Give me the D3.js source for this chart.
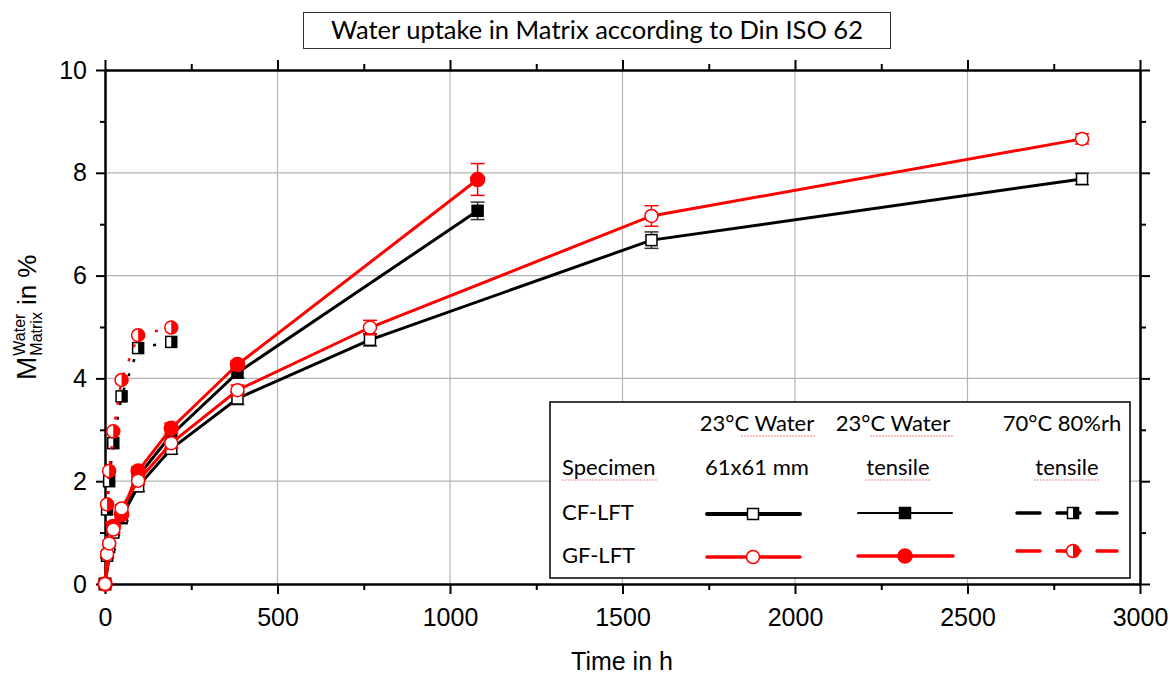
<!DOCTYPE html>
<html>
<head>
<meta charset="utf-8">
<script src="https://cdn.jsdelivr.net/npm/d3@7"></script>
<style>
  body { margin: 0; background: #fff; }
  .legend-text { font-family: Lato, "Open Sans", sans-serif; font-size: 22px; fill: #000; }
</style>
</head>
<body>
<div id="chart"></div>
<script>
// 23°C water, 61x61 mm plates
const timeSheet = [0, 6, 12, 24, 48, 96, 192, 384, 768, 1584, 2832];
const cfSheet = [0, 0.55, 0.72, 1.0, 1.3, 1.9, 2.63, 3.61, 4.75, 6.69, 7.88];
const cfSheetErr = [0, 0.05, 0.05, 0.06, 0.07, 0.1, 0.1, 0.12, 0.12, 0.16, 0.11];
const gfSheet = [0, 0.58, 0.79, 1.06, 1.47, 2.01, 2.74, 3.77, 4.99, 7.16, 8.66];
const gfSheetErr = [0, 0.05, 0.05, 0.06, 0.07, 0.08, 0.1, 0.1, 0.14, 0.2, 0.1];

// 23°C water, tensile specimens
const timeTensile = [0, 24, 48, 96, 192, 384, 1080];
const cfTensile = [0, 1.05, 1.28, 2.1, 2.9, 4.11, 7.26];
const cfTensileErr = [0, 0.05, 0.06, 0.08, 0.1, 0.1, 0.17];
const gfTensile = [0, 1.12, 1.35, 2.2, 3.03, 4.27, 7.87];
const gfTensileErr = [0, 0.05, 0.06, 0.08, 0.1, 0.08, 0.31];

// 70°C 80%rh, tensile specimens
const timeHumid = [0, 6, 12, 24, 48, 96, 192];
const cfHumid = [0, 1.45, 2.0, 2.74, 3.65, 4.59, 4.71];
const gfHumid = [0, 1.55, 2.2, 2.97, 3.97, 4.84, 4.99];

const xTicks = [0, 500, 1000, 1500, 2000, 2500, 3000];
const xMinor = [250, 750, 1250, 1750, 2250, 2750];
const yTicks = [0, 2, 4, 6, 8, 10];
const yMinor = [1, 3, 5, 7, 9];

const titleText = "Water uptake in Matrix according to Din ISO 62";
const legendHead1 = ["23°C Water", "23°C Water", "70°C 80%rh"];
const legendHead2 = ["Specimen", "61x61 mm", "tensile", "tensile"];
const legendRows = ["CF-LFT", "GF-LFT"];

const RED = "#ff0000";
const AXIS_FONT = "'Liberation Sans', Arial, sans-serif";

UptakeChart = function (_parentElement) {
    this.parentElement = _parentElement;
    this.initVis();
};

UptakeChart.prototype.initVis = function () {
    var vis = this;

    vis.width = 1174;
    vis.height = 675;
    vis.plot = { left: 105, right: 1140, top: 70, bottom: 584 };

    vis.svg = d3.select("#" + vis.parentElement).append("svg")
        .attr("width", vis.width)
        .attr("height", vis.height);

    vis.x = d3.scaleLinear().domain([0, 3000]).range([vis.plot.left, vis.plot.right]);
    vis.y = d3.scaleLinear().domain([0, 10]).range([vis.plot.bottom, vis.plot.top]);

    // grid
    vis.svg.append("g").selectAll("line")
        .data(xTicks.slice(1, -1))
        .enter().append("line")
        .attr("x1", d => vis.x(d)).attr("x2", d => vis.x(d))
        .attr("y1", vis.plot.top).attr("y2", vis.plot.bottom)
        .attr("stroke", "#b4b4b4").attr("stroke-width", 1.2);
    vis.svg.append("g").selectAll("line")
        .data(yTicks.slice(1, -1))
        .enter().append("line")
        .attr("y1", d => vis.y(d)).attr("y2", d => vis.y(d))
        .attr("x1", vis.plot.left).attr("x2", vis.plot.right)
        .attr("stroke", "#b4b4b4").attr("stroke-width", 1.2);

    vis.drawAxes();

    // series: black first, red on top, plates last so the open markers stay visible
    vis.drawSeries(timeHumid, cfHumid, null, "#000", 2.5, "3,12", "halfSquare");
    vis.drawSeries(timeTensile, cfTensile, cfTensileErr, "#000", 3, null, "square");
    vis.drawSeries(timeSheet, cfSheet, cfSheetErr, "#000", 3, null, "openSquare");
    vis.drawSeries(timeHumid, gfHumid, null, RED, 2.5, "3,12", "halfCircle");
    vis.drawSeries(timeTensile, gfTensile, gfTensileErr, RED, 3, null, "circle");
    vis.drawSeries(timeSheet, gfSheet, gfSheetErr, RED, 3, null, "openCircle");

    vis.drawTitle();
    vis.drawLegend();
};

UptakeChart.prototype.drawAxes = function () {
    var vis = this;
    var style = g => {
        g.select(".domain").attr("stroke", "#000").attr("stroke-width", 2.5);
        g.selectAll(".tick line").attr("stroke", "#000").attr("stroke-width", 2);
        g.selectAll(".tick text")
            .style("font-family", AXIS_FONT)
            .style("font-size", "25px")
            .attr("fill", "#000");
    };

    vis.svg.append("g")
        .attr("transform", `translate(0,${vis.plot.bottom})`)
        .call(d3.axisBottom(vis.x).tickValues(xTicks).tickSize(10).tickSizeOuter(0)
            .tickPadding(14).tickFormat(d3.format("d")))
        .call(style);
    vis.svg.append("g")
        .attr("transform", `translate(0,${vis.plot.bottom})`)
        .call(d3.axisBottom(vis.x).tickValues(xMinor).tickSize(6).tickFormat(""))
        .call(style).select(".domain").remove();

    vis.svg.append("g")
        .attr("transform", `translate(0,${vis.plot.top})`)
        .call(d3.axisTop(vis.x).tickValues(xTicks).tickSize(10).tickSizeOuter(0).tickFormat(""))
        .call(style);
    vis.svg.append("g")
        .attr("transform", `translate(0,${vis.plot.top})`)
        .call(d3.axisTop(vis.x).tickValues(xMinor).tickSize(6).tickFormat(""))
        .call(style).select(".domain").remove();

    vis.svg.append("g")
        .attr("transform", `translate(${vis.plot.left},0)`)
        .call(d3.axisLeft(vis.y).tickValues(yTicks).tickSize(9).tickSizeOuter(0).tickPadding(9))
        .call(style);
    vis.svg.append("g")
        .attr("transform", `translate(${vis.plot.left},0)`)
        .call(d3.axisLeft(vis.y).tickValues(yMinor).tickSize(5).tickFormat(""))
        .call(style).select(".domain").remove();

    vis.svg.append("g")
        .attr("transform", `translate(${vis.plot.right},0)`)
        .call(d3.axisRight(vis.y).tickValues(yTicks).tickSize(10).tickSizeOuter(0).tickFormat(""))
        .call(style);
    vis.svg.append("g")
        .attr("transform", `translate(${vis.plot.right},0)`)
        .call(d3.axisRight(vis.y).tickValues(yMinor).tickSize(6).tickFormat(""))
        .call(style).select(".domain").remove();

    // axis titles
    vis.svg.append("text")
        .attr("x", 622).attr("y", 670)
        .attr("text-anchor", "middle")
        .style("font-family", AXIS_FONT)
        .style("font-size", "25px")
        .text("Time in h");

    var yl = vis.svg.append("g").attr("transform", "translate(36,0) rotate(-90)");
    var m = yl.append("text").attr("x", -380).attr("y", 0)
        .style("font-family", AXIS_FONT).style("font-size", "28px").text("M");
    var mw = m.node().getComputedTextLength();
    var sup = yl.append("text").attr("x", -380 + mw + 1).attr("y", -11)
        .style("font-family", AXIS_FONT).style("font-size", "16px").text("Water");
    var sub = yl.append("text").attr("x", -380 + mw + 1).attr("y", 6)
        .style("font-family", AXIS_FONT).style("font-size", "16px").text("Matrix");
    var sw = Math.max(sup.node().getComputedTextLength(), sub.node().getComputedTextLength());
    yl.append("text").attr("x", -380 + mw + sw + 8).attr("y", 0)
        .style("font-family", AXIS_FONT).style("font-size", "26px").text("in %");
};

UptakeChart.prototype.drawMarker = function (g, type, color) {
    var s = 11, r = 6.5;
    if (type === "openSquare" || type === "square" || type === "halfSquare") {
        g.append("rect")
            .attr("x", -s / 2).attr("y", -s / 2).attr("width", s).attr("height", s)
            .attr("fill", type === "square" ? color : "#fff")
            .attr("stroke", color).attr("stroke-width", 1.5);
        if (type === "halfSquare") {
            g.append("rect").attr("x", 0).attr("y", -s / 2).attr("width", s / 2).attr("height", s)
                .attr("fill", color);
        }
    } else {
        var rr = type === "circle" ? 7 : r;
        g.append("circle").attr("r", rr)
            .attr("fill", type === "circle" ? color : "#fff")
            .attr("stroke", color).attr("stroke-width", 1.5);
        if (type === "halfCircle") {
            g.append("path").attr("d", `M0,${-rr}A${rr},${rr} 0 0 1 0,${rr}Z`).attr("fill", color);
        }
    }
};

UptakeChart.prototype.drawSeries = function (times, values, errors, color, width, dash, marker) {
    var vis = this;
    var pts = times.map((t, i) => ({ t: t, v: values[i], e: errors ? errors[i] : 0 }));
    var g = vis.svg.append("g");

    var line = d3.line().x(d => vis.x(d.t)).y(d => vis.y(d.v));
    g.append("path")
        .datum(pts)
        .attr("d", line)
        .attr("fill", "none")
        .attr("stroke", color)
        .attr("stroke-width", width)
        .attr("stroke-dasharray", dash);

    // error bars
    if (errors) {
        var eColor = color === "#000" ? "#333" : color;
        var eb = g.append("g").selectAll("g")
            .data(pts.filter(d => d.e > 0))
            .enter().append("g")
            .attr("stroke", eColor).attr("stroke-width", 1.5);
        eb.append("line")
            .attr("x1", d => vis.x(d.t)).attr("x2", d => vis.x(d.t))
            .attr("y1", d => vis.y(d.v + d.e)).attr("y2", d => vis.y(d.v - d.e));
        [1, -1].forEach(sgn => {
            eb.append("line")
                .attr("x1", d => vis.x(d.t) - 7).attr("x2", d => vis.x(d.t) + 7)
                .attr("y1", d => vis.y(d.v + sgn * d.e)).attr("y2", d => vis.y(d.v + sgn * d.e));
        });
    }

    // markers
    g.append("g").selectAll("g")
        .data(pts)
        .enter().append("g")
        .attr("transform", d => `translate(${vis.x(d.t)},${vis.y(d.v)})`)
        .each(function () { vis.drawMarker(d3.select(this), marker, color); });
};

UptakeChart.prototype.drawTitle = function () {
    var vis = this;
    vis.svg.append("rect")
        .attr("x", 303.5).attr("y", 12.5).attr("width", 587).attr("height", 36)
        .attr("fill", "#fff").attr("stroke", "#333").attr("stroke-width", 1);
    vis.svg.append("text")
        .attr("x", 597).attr("y", 39)
        .attr("text-anchor", "middle")
        .style("font-family", "Lato, 'Open Sans', sans-serif")
        .style("font-size", "25.5px")
        .text(titleText);
};

UptakeChart.prototype.drawLegend = function () {
    var vis = this;
    var lg = vis.svg.append("g");

    lg.append("rect")
        .attr("x", 550).attr("y", 402).attr("width", 580).attr("height", 176)
        .attr("fill", "#fff").attr("stroke", "#000").attr("stroke-width", 1.5);

    // header rows
    var headX = [757, 893, 1062];
    lg.selectAll(".h1").data(legendHead1).enter().append("text")
        .attr("class", "legend-text")
        .attr("x", (d, i) => headX[i]).attr("y", 431)
        .attr("text-anchor", "middle")
        .text(d => d);
    var head2X = [562, 757, 898, 1067];
    lg.selectAll(".h2").data(legendHead2).enter().append("text")
        .attr("class", "legend-text")
        .attr("x", (d, i) => head2X[i]).attr("y", 475)
        .attr("text-anchor", (d, i) => i === 0 ? "start" : "middle")
        .text(d => d);
    lg.selectAll(".rl").data(legendRows).enter().append("text")
        .attr("class", "legend-text")
        .attr("x", 562).attr("y", (d, i) => 520 + i * 43)
        .text(d => d);

    // spell-check squiggles
    var squig = [[741, 815, 436], [870, 953, 436], [562, 657, 480], [865, 931, 480], [1034, 1100, 480]];
    lg.selectAll(".sq").data(squig).enter().append("line")
        .attr("x1", d => d[0]).attr("x2", d => d[1])
        .attr("y1", d => d[2]).attr("y2", d => d[2])
        .attr("stroke", "#e88").attr("stroke-width", 1).attr("stroke-dasharray", "2,1");

    // samples
    var samples = [
        { x1: 707, x2: 800, mx: 753, y: 514, color: "#000", w: 4, dash: null, m: "openSquare" },
        { x1: 707, x2: 800, mx: 753, y: 557, color: RED, w: 3.5, dash: null, m: "openCircle" },
        { x1: 858, x2: 952, mx: 905, y: 513, color: "#000", w: 2, dash: null, m: "square" },
        { x1: 858, x2: 953, mx: 905, y: 556, color: RED, w: 3.5, dash: null, m: "circle" },
        { x1: 1017, x2: 1117, mx: 1073, y: 513, color: "#000", w: 3.5, dash: "23,17", m: "halfSquare" },
        { x1: 1017, x2: 1117, mx: 1073, y: 551, color: RED, w: 3.5, dash: "23,17", m: "halfCircle" }
    ];
    samples.forEach(s => {
        lg.append("line")
            .attr("x1", s.x1).attr("x2", s.x2).attr("y1", s.y).attr("y2", s.y)
            .attr("stroke", s.color).attr("stroke-width", s.w)
            .attr("stroke-linecap", "round")
            .attr("stroke-dasharray", s.dash);
        var mg = lg.append("g").attr("transform", `translate(${s.mx},${s.y})`);
        vis.drawMarker(mg, s.m, s.color);
    });
};

new UptakeChart("chart");
</script>
</body>
</html>
